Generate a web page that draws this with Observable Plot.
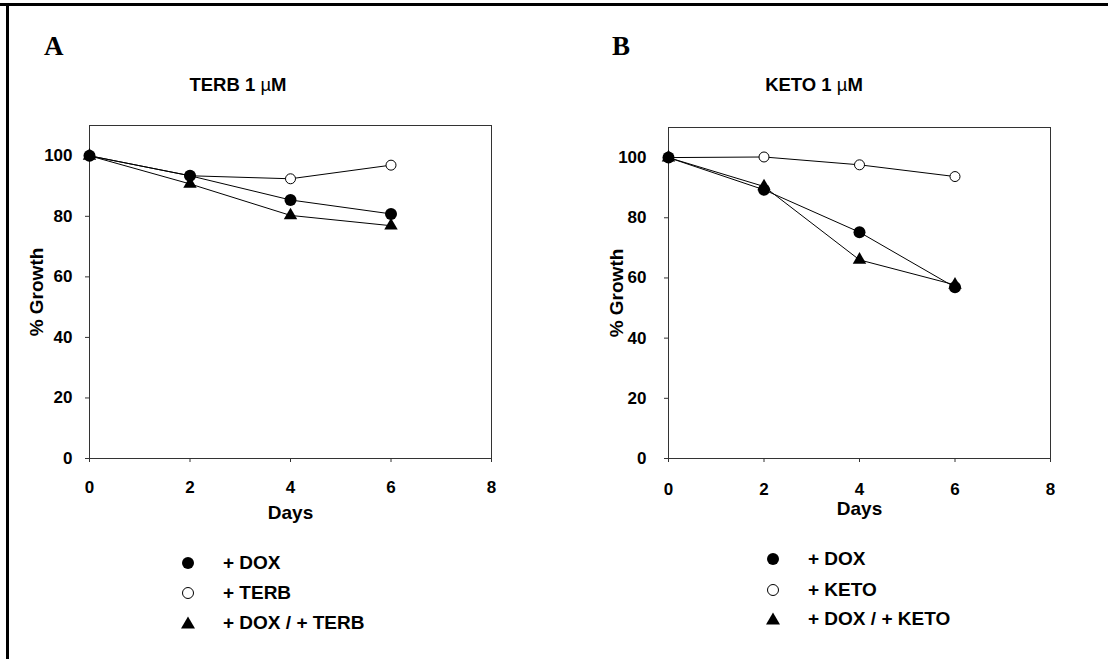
<!DOCTYPE html>
<html>
<head>
<meta charset="utf-8">
<script src="https://cdn.jsdelivr.net/npm/d3@7"></script>
<script src="https://cdn.jsdelivr.net/npm/@observablehq/plot@0.6"></script>
<style>
  html, body { margin: 0; padding: 0; background: #fff; }
  #root { position: relative; width: 1108px; height: 659px; overflow: hidden; background: #fff;
          font-family: "Liberation Sans", Arial, sans-serif; color: #000; }
  .abs { position: absolute; white-space: nowrap; }
  .panel { position: absolute; top: 0; }
  .letter { font-family: "Liberation Serif", "Times New Roman", serif; font-weight: bold; font-size: 27px; line-height: 1; }
  .title { font-weight: bold; font-size: 18.5px; line-height: 1; transform: translateX(-50%); }
  .title .mu { font-weight: normal; }
  .leg { font-weight: bold; font-size: 19px; line-height: 1; }
  .legsym { position: absolute; overflow: visible; }
</style>
</head>
<body>
<div id="root">
  <div class="abs" style="left:0;top:3px;width:1108px;height:3px;background:#000"></div>
  <div class="abs" style="left:6px;top:3px;width:3px;height:656px;background:#000"></div>
  <div id="panelA" class="panel" style="left:0"></div>
  <div id="panelB" class="panel" style="left:540px"></div>
  <div class="abs letter" style="left:44px;top:33px">A</div>
  <div class="abs letter" style="left:612px;top:33px">B</div>
  <div class="abs title" style="left:238px;top:76px">TERB 1 <span class="mu">µ</span>M</div>
  <div class="abs title" style="left:814px;top:76px">KETO 1 <span class="mu">µ</span>M</div>
  <div id="legA"></div>
  <div id="legB"></div>
</div>
<script>
// ---- data ----
const days = [0, 2, 4, 6];
const xTicks = [0, 2, 4, 6, 8];
const yTicks = [0, 20, 40, 60, 80, 100];

const terbDox     = [100, 93.4, 85.4, 80.8];
const terbTerb    = [100, 93.4, 92.4, 96.9];
const terbDoxTerb = [100, 90.7, 80.3, 76.9];

const ketoDox     = [100, 89.3, 75.2, 56.9];
const ketoKeto    = [100, 100.2, 97.6, 93.7];
const ketoDoxKeto = [100, 90.4, 66.0, 57.7];

const legendA = ["+ DOX", "+ TERB", "+ DOX / + TERB"];
const legendB = ["+ DOX", "+ KETO", "+ DOX / + KETO"];
const symbols = ["filled", "open", "triangle"];

function rows(vals) { return days.map((d, i) => ({day: d, value: vals[i]})); }

function panel({dox, single, combo, marginLeft, marginRight, marginTop, yPad, xPad, yLabelOffset, xLabelOffset, width}) {
  const sDox = rows(dox), sSingle = rows(single), sCombo = rows(combo);
  const ff = '"Liberation Sans", Arial, sans-serif';
  return Plot.plot({
    width, height: 530,
    marginLeft, marginRight, marginTop, marginBottom: 72,
    style: {background: "transparent", overflow: "visible", fontFamily: ff, color: "#000"},
    x: {domain: [0, 8]},
    y: {domain: [0, 110]},
    marks: [
      Plot.frame({stroke: "#333", strokeWidth: 1}),
      Plot.axisX({ticks: xTicks, tickSize: 4, tickPadding: xPad, fontSize: 17, fontWeight: "bold",
                  label: null, stroke: "#333"}),
      Plot.axisX({ticks: [], tickSize: 0, fontSize: 19, fontWeight: "bold",
                  label: "Days", labelAnchor: "center", labelOffset: xLabelOffset, labelArrow: "none"}),
      Plot.axisY({ticks: yTicks, tickSize: 4, tickPadding: yPad, fontSize: 17, fontWeight: "bold",
                  label: null, stroke: "#333"}),
      Plot.axisY({ticks: [], tickSize: 0, fontSize: 19, fontWeight: "bold",
                  label: "% Growth", labelAnchor: "center", labelOffset: yLabelOffset, labelArrow: "none"}),
      Plot.line(sCombo, {x: "day", y: "value", stroke: "#000", strokeWidth: 1}),
      Plot.line(sDox, {x: "day", y: "value", stroke: "#000", strokeWidth: 1}),
      Plot.line(sSingle, {x: "day", y: "value", stroke: "#000", strokeWidth: 1}),
      Plot.dot(sCombo, {x: "day", y: "value", symbol: "triangle", r: 5, fill: "#000", stroke: "none"}),
      Plot.dot(sSingle, {x: "day", y: "value", r: 5, fill: "#fff", stroke: "#000", strokeWidth: 1}),
      Plot.dot(sDox, {x: "day", y: "value", r: 6, fill: "#000", stroke: "none"})
    ]
  });
}

const plotA = panel({dox: terbDox, single: terbTerb, combo: terbDoxTerb, width: 540,
  marginLeft: 89, marginRight: 49, marginTop: 125, yPad: 13, xPad: 18, yLabelOffset: 60, xLabelOffset: 60});
const plotB = panel({dox: ketoDox, single: ketoKeto, combo: ketoDoxKeto, width: 568,
  marginLeft: 128, marginRight: 58, marginTop: 127, yPad: 18, xPad: 20, yLabelOffset: 59, xLabelOffset: 56});
document.getElementById("panelA").appendChild(plotA);
document.getElementById("panelB").appendChild(plotB);

function legend(containerId, labels, symX, textX, ys) {
  const c = document.getElementById(containerId);
  labels.forEach((lab, i) => {
    const kind = symbols[i];
    const svg = document.createElementNS("http://www.w3.org/2000/svg", "svg");
    svg.setAttribute("class", "legsym");
    svg.setAttribute("width", 16); svg.setAttribute("height", 16);
    svg.style.left = (symX - 8) + "px"; svg.style.top = (ys[i] - 8) + "px";
    let el;
    if (kind === "triangle") {
      el = document.createElementNS("http://www.w3.org/2000/svg", "path");
      el.setAttribute("d", "M8,1.5L15,13.5L1,13.5Z");
      el.setAttribute("fill", "#000");
    } else {
      el = document.createElementNS("http://www.w3.org/2000/svg", "circle");
      el.setAttribute("cx", 8); el.setAttribute("cy", 8);
      el.setAttribute("r", kind === "filled" ? 6 : 5.5);
      el.setAttribute("fill", kind === "filled" ? "#000" : "#fff");
      el.setAttribute("stroke", "#000");
      el.setAttribute("stroke-width", kind === "filled" ? 0 : 1);
    }
    svg.appendChild(el);
    c.appendChild(svg);
    const t = document.createElement("div");
    t.className = "abs leg";
    t.style.left = textX + "px";
    t.style.top = (ys[i] - 10) + "px";
    t.textContent = lab;
    c.appendChild(t);
  });
}
legend("legA", legendA, 188, 223, [563, 593, 623]);
legend("legB", legendB, 773, 808, [559, 590, 619]);
</script>
</body>
</html>
